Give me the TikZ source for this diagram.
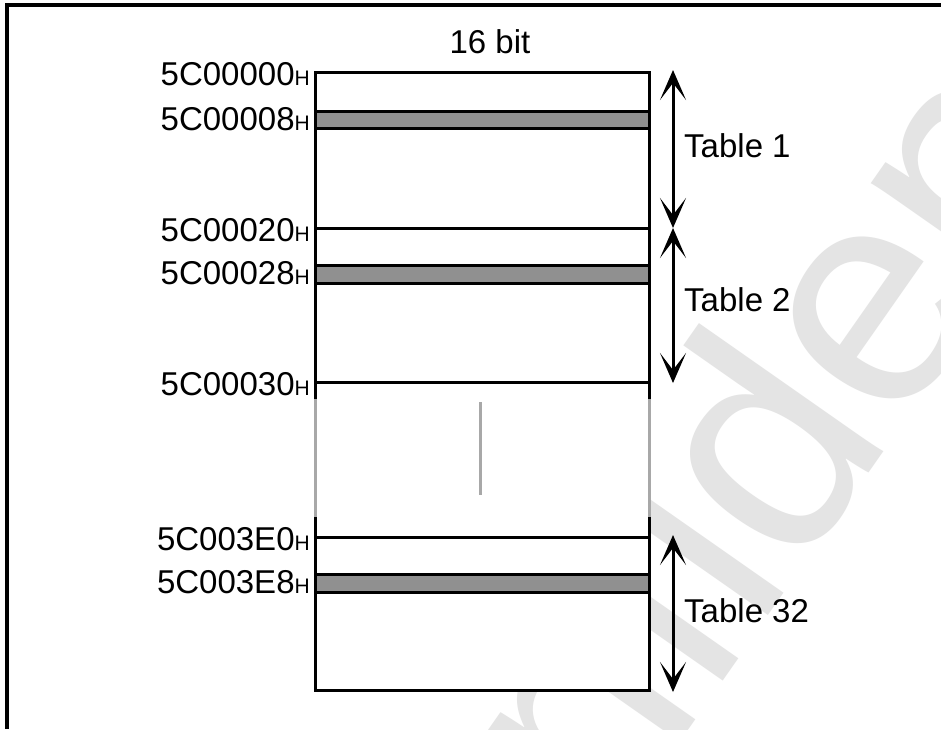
\documentclass[tikz,border=0pt]{standalone}
\usepackage{fontspec}
\setmainfont{Liberation Sans}
\usetikzlibrary{arrows.meta}
\definecolor{bandgray}{HTML}{909090}
\definecolor{gapgray}{HTML}{A8A8A8}
\definecolor{wmgray}{HTML}{E4E4E4}
\newcommand{\addr}[1]{#1{\fontsize{21}{21}\selectfont H}}
\tikzset{
  frameline/.style={line width=3.5pt, black},
  boxline/.style={line width=3pt, black},
  bandbox/.style={fill=bandgray, draw=black, line width=3pt},
  addrlabel/.style={anchor=east, inner sep=0pt, font=\fontsize{33}{33}\selectfont},
  tablelabel/.style={anchor=west, inner sep=0pt, font=\fontsize{33}{33}\selectfont},
  spanarrow/.style={line width=3pt, {Stealth[length=30pt,width=26pt,inset=17pt]}-{Stealth[length=30pt,width=26pt,inset=17pt]}},
}
\begin{document}
\begin{tikzpicture}[x=1pt,y=-1pt]
\useasboundingbox (0,0) rectangle (941,729);
\fill[white] (0,0) rectangle (941,729);
% watermark
\node[rotate=55, text=wmgray, inner sep=0pt, font=\fontsize{310}{310}\selectfont] (wm) at (760,435) {Confidential};
% frame
\draw[frameline] (941,5) -- (7,5) -- (7,729);
% box pieces
\fill[white] (315,72) rectangle (649,690);
\draw[boxline] (315,382) -- (315,72) -- (649,72) -- (649,382);
\draw[bandbox] (315,111) rectangle (649,128);
\draw[boxline] (315,228) -- (649,228);
\draw[bandbox] (315,265) rectangle (649,283);
\draw[boxline] (315,382) -- (649,382);
% gap region
\draw[boxline] (315,382) -- (315,399);
\draw[boxline] (649,382) -- (649,399);
\draw[line width=3pt, gapgray] (315,399) -- (315,517);
\draw[line width=3pt, gapgray] (649,399) -- (649,517);
\draw[boxline] (315,517) -- (315,537);
\draw[boxline] (649,517) -- (649,537);
\draw[line width=3pt, gapgray] (480,402) -- (480,495);
% lower table
\draw[boxline] (315,537) -- (649,537);
\draw[bandbox] (315,574) rectangle (649,592);
\draw[boxline] (315,537) -- (315,690) -- (649,690) -- (649,537);
% header
\node[inner sep=0pt, font=\fontsize{33}{33}\selectfont] (hdr) at (490,42) {16 bit};
% address labels
\node[addrlabel] (a0) at (310,74) {\addr{5C00000}};
\node[addrlabel] (a1) at (310,119) {\addr{5C00008}};
\node[addrlabel] (a2) at (310,230) {\addr{5C00020}};
\node[addrlabel] (a3) at (310,273) {\addr{5C00028}};
\node[addrlabel] (a4) at (310,384) {\addr{5C00030}};
\node[addrlabel] (a5) at (310,539) {\addr{5C003E0}};
\node[addrlabel] (a6) at (310,582) {\addr{5C003E8}};
% arrows
\coordinate (t1a) at (673,70);
\coordinate (t1b) at (673,228);
\coordinate (t2a) at (673,228);
\coordinate (t2b) at (673,383);
\coordinate (t3a) at (673,535);
\coordinate (t3b) at (673,692);
\draw[spanarrow] (t1a) -- (t1b);
\draw[spanarrow] (t2a) -- (t2b);
\draw[spanarrow] (t3a) -- (t3b);
\node[tablelabel] (l1) at (684,146) {Table 1};
\node[tablelabel] (l2) at (684,300) {Table 2};
\node[tablelabel] (l3) at (684,611) {Table 32};
\end{tikzpicture}
\end{document}
